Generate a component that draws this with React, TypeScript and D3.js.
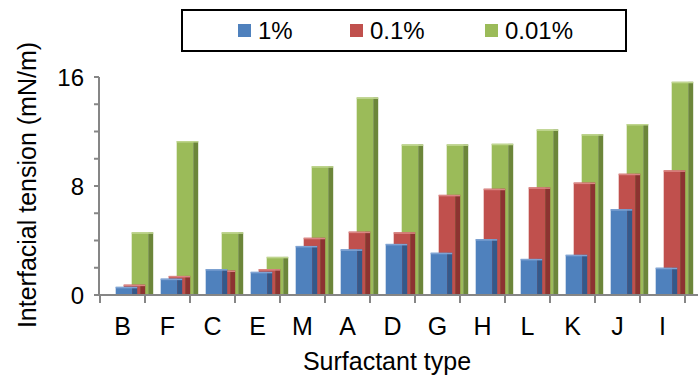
import { useEffect, useRef } from "react"
import * as d3 from "d3"

const categories = ["B", "F", "C", "E", "M", "A", "D", "G", "H", "L", "K", "J", "I"]
const seriesNames = ["1%", "0.1%", "0.01%"]
const vals1 = [0.6, 1.2, 1.9, 1.7, 3.6, 3.35, 3.75, 3.1, 4.1, 2.65, 2.95, 6.3, 2.0]
const vals01 = [0.76, 1.4, 1.8, 1.9, 4.2, 4.65, 4.6, 7.35, 7.8, 7.9, 8.25, 8.9, 9.15]
const vals001 = [4.6, 11.3, 4.6, 2.8, 9.45, 14.5, 11.05, 11.05, 11.1, 12.15, 11.8, 12.55, 15.65]
const yTicks = [0, 8, 16]

const front = ["#4F81BD", "#C0504D", "#9BBB59"]
const side = ["#34598A", "#8C3331", "#6C863A"]
const topC = ["#7FA3D3", "#DA8583", "#BFD58F"]

export default function App() {
  const ref = useRef<SVGSVGElement>(null)

  useEffect(() => {
    const W = 698, H = 377
    const svg = d3.select(ref.current)
    svg.selectAll("*").remove()
    svg.attr("width", W).attr("height", H)

    const x = d3.scaleBand().domain(categories).range([100, 685]).padding(0)
    const y = d3.scaleLinear().domain([0, 16]).range([295, 77])
    const depth = d3.scaleBand().domain(seriesNames).range([15.7, 39.7])
    const fw = 16.5, sw = 5
    const font = "Liberation Sans, Arial, sans-serif"

    const all = [vals1, vals01, vals001]

    // back to front: green, red, blue
    for (let s = 2; s >= 0; s--) {
      const g = svg.append("g")
      const data = categories.map((c, i) => ({ c, v: all[s][i] }))
      const x0 = (d: any) => (x(d.c) as number) + (depth(seriesNames[s]) as number)
      g.selectAll(".f").data(data).enter().append("rect")
        .attr("x", x0).attr("y", (d) => y(d.v))
        .attr("width", fw).attr("height", (d) => y(0) - y(d.v))
        .attr("fill", front[s])
      g.selectAll(".s").data(data).enter().append("rect")
        .attr("x", (d) => x0(d) + fw).attr("y", (d) => y(d.v))
        .attr("width", sw).attr("height", (d) => y(0) - y(d.v))
        .attr("fill", side[s])
      g.selectAll(".t").data(data).enter().append("rect")
        .attr("x", x0).attr("y", (d) => y(d.v))
        .attr("width", fw + sw).attr("height", 1.5)
        .attr("fill", topC[s])
    }

    const axisColor = "#868686"
    // y axis
    svg.append("line").attr("x1", 99).attr("x2", 99).attr("y1", y(16)).attr("y2", y(0))
      .attr("stroke", axisColor).attr("stroke-width", 2)
    d3.range(0, 17, 2).forEach((t) => {
      svg.append("line").attr("x1", 94).attr("x2", 99).attr("y1", y(t)).attr("y2", y(t))
        .attr("stroke", axisColor).attr("stroke-width", 2)
    })
    yTicks.forEach((t) => {
      svg.append("text").attr("x", 84).attr("y", y(t) + 8.5).attr("text-anchor", "end")
        .attr("font-family", font).attr("font-size", 24).attr("fill", "#000").text(t)
    })

    // x axis
    svg.append("line").attr("x1", 98).attr("x2", 698).attr("y1", y(0)).attr("y2", y(0))
      .attr("stroke", axisColor).attr("stroke-width", 2)
    categories.concat(["__end"]).forEach((c, i) => {
      const xx = 100 + i * x.bandwidth()
      svg.append("line").attr("x1", xx).attr("x2", xx).attr("y1", y(0)).attr("y2", y(0) + 8)
        .attr("stroke", axisColor).attr("stroke-width", 2)
    })
    categories.forEach((c) => {
      svg.append("text").attr("x", (x(c) as number) + x.bandwidth() / 2).attr("y", 335)
        .attr("text-anchor", "middle").attr("font-family", font).attr("font-size", 25)
        .attr("fill", "#000").text(c)
    })

    svg.append("text").attr("x", 387).attr("y", 370).attr("text-anchor", "middle")
      .attr("font-family", font).attr("font-size", 25).attr("fill", "#000").text("Surfactant type")
    svg.append("text").attr("transform", "translate(36,185) rotate(-90)").attr("text-anchor", "middle")
      .attr("font-family", font).attr("font-size", 25).attr("fill", "#000")
      .text("Interfacial tension (mN/m)")

    // legend
    svg.append("rect").attr("x", 182).attr("y", 10).attr("width", 444).attr("height", 41)
      .attr("fill", "#fff").attr("stroke", "#000").attr("stroke-width", 2)
    const lx = [238, 350, 485]
    seriesNames.forEach((n, i) => {
      svg.append("rect").attr("x", lx[i]).attr("y", 24).attr("width", 13).attr("height", 13)
        .attr("fill", front[i])
      svg.append("text").attr("x", lx[i] + 20).attr("y", 38.5).attr("font-family", font)
        .attr("font-size", 24).attr("fill", "#000").text(n)
    })
  }, [])

  return <svg ref={ref} style={{ position: "absolute", left: 0, top: 0 }} />
}
